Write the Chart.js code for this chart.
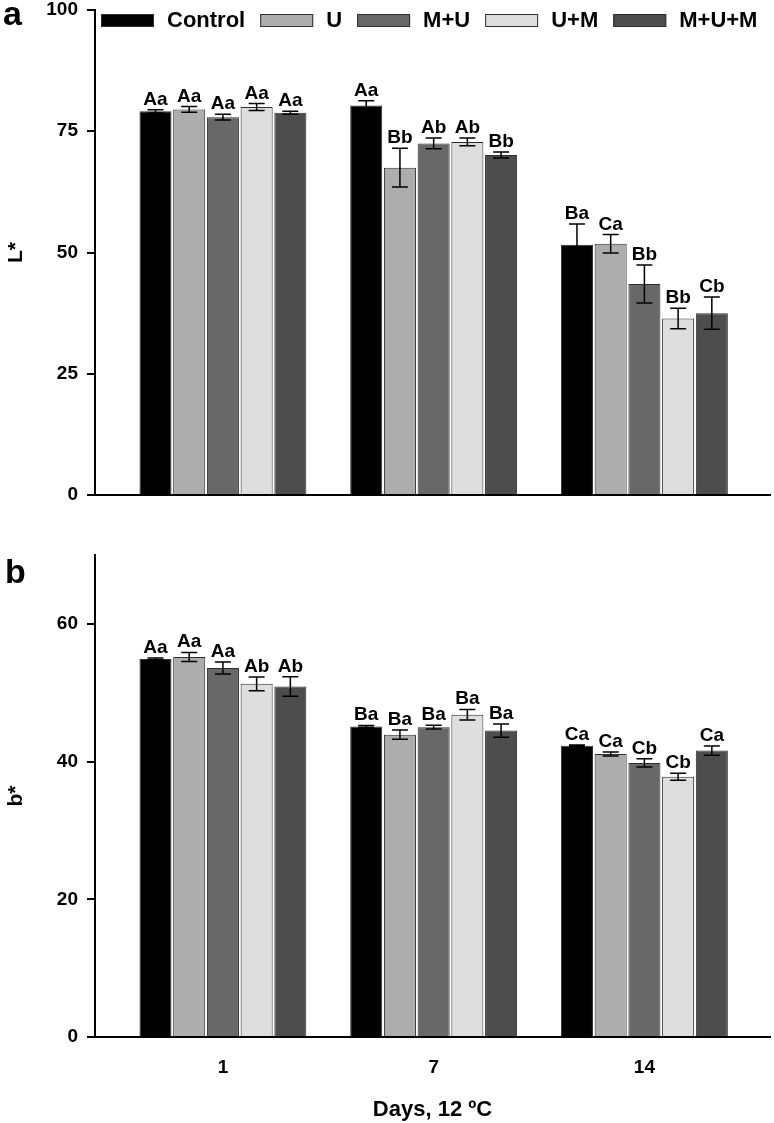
<!DOCTYPE html>
<html>
<head>
<meta charset="utf-8">
<script src="https://cdn.jsdelivr.net/npm/chart.js@4.4.0/dist/chart.umd.min.js"></script>
<style>
  body { margin: 0; background: #fff; }
  #wrap-a { position: absolute; left: 0; top: 0; width: 774px; height: 520px; }
  #wrap-b { position: absolute; left: 0; top: 530px; width: 774px; height: 593px; }
</style>
</head>
<body>
<div id="wrap-a"><canvas id="chart-a"></canvas></div>
<div id="wrap-b"><canvas id="chart-b"></canvas></div>
<script>
// storage days and treatments
const days = ['1', '7', '14'];
const treatments = ['Control', 'U', 'M+U', 'U+M', 'M+U+M'];
const colors = ['#000000', '#adadad', '#686868', '#dedede', '#4d4d4d'];

// panel a: L* (mean, error, letters), one array per treatment over the days
const lControl = [79.1, 80.3, 51.6];
const lU = [79.5, 67.5, 51.8];
const lMU = [77.9, 72.5, 43.5];
const lUM = [80.0, 72.8, 36.4];
const lMUM = [78.8, 70.1, 37.5];

const lControlErr = [0.35, 1.0, 4.3];
const lUErr = [0.6, 4.0, 1.9];
const lMUErr = [0.6, 1.1, 3.9];
const lUMErr = [0.7, 0.8, 2.1];
const lMUMErr = [0.3, 0.6, 3.3];

const lControlSig = ['Aa', 'Aa', 'Ba'];
const lUSig = ['Aa', 'Bb', 'Ca'];
const lMUSig = ['Aa', 'Ab', 'Bb'];
const lUMSig = ['Aa', 'Ab', 'Bb'];
const lMUMSig = ['Aa', 'Bb', 'Cb'];

// panel b: b*
const bControl = [54.9, 45.1, 42.3];
const bU = [55.2, 43.9, 41.1];
const bMU = [53.6, 45.0, 39.8];
const bUM = [51.3, 46.8, 37.8];
const bMUM = [50.9, 44.5, 41.6];

const bControlErr = [0.15, 0.15, 0.1];
const bUErr = [0.65, 0.67, 0.3];
const bMUErr = [0.87, 0.27, 0.6];
const bUMErr = [1.0, 0.77, 0.5];
const bMUMErr = [1.42, 0.96, 0.67];

const bControlSig = ['Aa', 'Ba', 'Ca'];
const bUSig = ['Aa', 'Ba', 'Ca'];
const bMUSig = ['Aa', 'Ba', 'Cb'];
const bUMSig = ['Ab', 'Ba', 'Cb'];
const bMUMSig = ['Ab', 'Ba', 'Ca'];

// y tick values
const lTicks = [0, 25, 50, 75, 100];
const bTicks = [0, 20, 40, 60];

const FONT = "'Liberation Sans', Arial, sans-serif";
Chart.defaults.font.family = FONT;
Chart.defaults.font.weight = 'bold';
Chart.defaults.color = '#000';

function makeSets(means, errs, sigs) {
  return treatments.map((t, i) => ({
    label: t,
    data: means[i].map((v, d) => ({ x: d, y: v })),
    errors: errs[i],
    sig: sigs[i],
    backgroundColor: colors[i],
    borderColor: '#2e2e2e',
    borderWidth: 1,
    barPercentage: 0.95,
    categoryPercentage: 0.8
  }));
}

// error bars + significance letters
const errorBars = {
  id: 'errorBars',
  afterDatasetsDraw(chart) {
    const ctx = chart.ctx;
    const ys = chart.scales.y;
    ctx.save();
    ctx.strokeStyle = '#000';
    ctx.fillStyle = '#000';
    ctx.lineWidth = 1.5;
    ctx.font = 'bold 19px ' + FONT;
    ctx.textAlign = 'center';
    ctx.textBaseline = 'alphabetic';
    chart.data.datasets.forEach((ds, i) => {
      chart.getDatasetMeta(i).data.forEach((bar, j) => {
        const v = ds.data[j].y;
        const e = ds.errors[j];
        const hi = ys.getPixelForValue(v + e);
        const lo = ys.getPixelForValue(v - e);
        ctx.beginPath();
        ctx.moveTo(bar.x, hi); ctx.lineTo(bar.x, lo);
        ctx.moveTo(bar.x - 8, hi); ctx.lineTo(bar.x + 8, hi);
        ctx.moveTo(bar.x - 8, lo); ctx.lineTo(bar.x + 8, lo);
        ctx.stroke();
        ctx.fillText(ds.sig[j], bar.x, hi - 5);
      });
    });
    ctx.restore();
  }
};

// panel letter a / b
const panelTag = {
  id: 'panelTag',
  afterDraw(chart, args, opts) {
    const ctx = chart.ctx;
    ctx.save();
    ctx.fillStyle = '#000';
    ctx.font = 'bold 34px ' + FONT;
    ctx.textBaseline = 'alphabetic';
    ctx.fillText(opts.text, opts.x, opts.y);
    ctx.restore();
  }
};

// legend row inside panel a
const legendRow = {
  id: 'legendRow',
  afterDraw(chart, args, opts) {
    if (!opts.show) return;
    const ctx = chart.ctx;
    let x = 101;
    ctx.save();
    ctx.font = 'bold 22px ' + FONT;
    ctx.textBaseline = 'middle';
    chart.data.datasets.forEach(ds => {
      ctx.fillStyle = ds.backgroundColor;
      ctx.fillRect(x, 14, 53, 13);
      ctx.strokeStyle = '#2e2e2e';
      ctx.lineWidth = 1;
      ctx.strokeRect(x + 0.5, 14.5, 52, 12);
      x += 53 + 13;
      ctx.fillStyle = '#000';
      ctx.fillText(ds.label, x, 21);
      x += ctx.measureText(ds.label).width + 15;
    });
    ctx.restore();
  }
};

function makeChart(id, sets, yMax, yTicks, yTitle, bottomPart) {
  return new Chart(document.getElementById(id), {
    type: 'bar',
    data: { datasets: sets },
    plugins: [errorBars, panelTag, legendRow],
    options: {
      responsive: true,
      maintainAspectRatio: false,
      animation: false,
      layout: { padding: { top: bottomPart ? 25 : 10, right: 4, left: 0, bottom: 0 } },
      plugins: {
        legend: { display: false },
        tooltip: { enabled: false },
        panelTag: bottomPart ? { text: 'b', x: 5, y: 53 } : { text: 'a', x: 3, y: 25 },
        legendRow: { show: !bottomPart }
      },
      scales: {
        x: {
          type: 'linear',
          min: -0.607,
          max: 2.596,
          offset: false,
          grid: { display: false, offset: false },
          border: { display: true, color: '#000', width: 2 },
          afterBuildTicks: s => { s.ticks = days.map((d, i) => ({ value: i })); },
          afterFit: s => { s.height = bottomPart ? 86 : 25; s.paddingLeft = 0; s.paddingRight = 0; },
          ticks: {
            display: bottomPart,
            padding: 11,
            font: { size: 19, weight: 'bold' },
            callback: v => days[v]
          },
          title: {
            display: bottomPart,
            text: 'Days, 12 ºC',
            font: { size: 22, weight: 'bold' },
            padding: { top: 4, bottom: 0 }
          }
        },
        y: {
          min: 0,
          max: yMax,
          afterBuildTicks: s => { s.ticks = yTicks.map(v => ({ value: v })); },
          afterFit: s => { s.width = 95; s.paddingTop = 0; s.paddingBottom = 0; },
          grid: { drawOnChartArea: false, drawTicks: true, tickLength: 8, color: '#000', lineWidth: 2 },
          border: { display: true, color: '#000', width: 2 },
          ticks: { padding: 9, font: { size: 19, weight: 'bold' } },
          title: {
            display: true,
            text: yTitle,
            font: { size: 21, weight: 'bold' },
            padding: { top: 4, bottom: 0 }
          }
        }
      }
    }
  });
}

makeChart('chart-a',
  makeSets([lControl, lU, lMU, lUM, lMUM],
           [lControlErr, lUErr, lMUErr, lUMErr, lMUMErr],
           [lControlSig, lUSig, lMUSig, lUMSig, lMUMSig]),
  100, lTicks, 'L*', false);

makeChart('chart-b',
  makeSets([bControl, bU, bMU, bUM, bMUM],
           [bControlErr, bUErr, bMUErr, bUMErr, bMUMErr],
           [bControlSig, bUSig, bMUSig, bUMSig, bMUMSig]),
  70, bTicks, 'b*', true);
</script>
</body>
</html>
